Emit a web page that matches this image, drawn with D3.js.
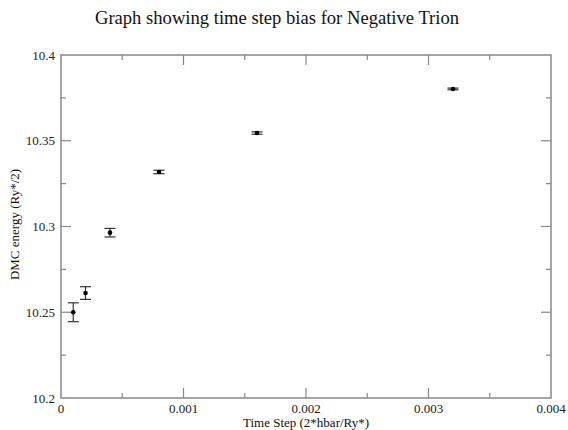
<!DOCTYPE html>
<html>
<head>
<meta charset="utf-8">
<script src="https://cdn.jsdelivr.net/npm/d3@7"></script>
<style>
  body { margin: 0; background: #fff; }
  text { font-family: "Liberation Serif", "DejaVu Serif", serif; }
</style>
</head>
<body>
<div id="chart"></div>
<script>
const timeSteps = [0.0001, 0.0002, 0.0004, 0.0008, 0.0016, 0.0032];
const energies = [10.2500, 10.2612, 10.2964, 10.3318, 10.3545, 10.3802];
const errors = [0.0055, 0.0037, 0.0025, 0.0010, 0.0007, 0.0005];
const xTicks = [0, 0.001, 0.002, 0.003, 0.004];
const yTicks = [10.2, 10.25, 10.3, 10.35, 10.4];

const width = 568, height = 430;
const margin = { top: 55, right: 17, bottom: 32, left: 61 };
const axisColor = '#888';

const svg = d3.select('#chart').append('svg')
    .attr('width', width)
    .attr('height', height);

const x = d3.scaleLinear().domain([0, 0.004]).range([margin.left, width - margin.right]);
const y = d3.scaleLinear().domain([10.2, 10.4]).range([height - margin.bottom, margin.top]);

const minorX = d3.range(0.0005, 0.004, 0.001);
const minorY = [10.225, 10.275, 10.325, 10.375];

// frame
svg.append('rect')
    .attr('x', x(0)).attr('y', y(10.4))
    .attr('width', x(0.004) - x(0)).attr('height', y(10.2) - y(10.4))
    .attr('fill', 'none').attr('stroke', axisColor).attr('stroke-width', 1.5);

const ticks = svg.append('g').attr('stroke', axisColor).attr('stroke-width', 1.2);
function xTick(v, len) {
    ticks.append('line').attr('x1', x(v)).attr('x2', x(v)).attr('y1', y(10.2)).attr('y2', y(10.2) - len);
    ticks.append('line').attr('x1', x(v)).attr('x2', x(v)).attr('y1', y(10.4)).attr('y2', y(10.4) + len);
}
function yTick(v, len) {
    ticks.append('line').attr('y1', y(v)).attr('y2', y(v)).attr('x1', x(0)).attr('x2', x(0) + len);
    ticks.append('line').attr('y1', y(v)).attr('y2', y(v)).attr('x1', x(0.004)).attr('x2', x(0.004) - len);
}
xTicks.slice(1, -1).forEach(v => xTick(v, 10));
minorX.forEach(v => xTick(v, 5));
yTicks.slice(1, -1).forEach(v => yTick(v, 10));
minorY.forEach(v => yTick(v, 5));

// tick labels
svg.append('g').selectAll('text').data(xTicks).join('text')
    .attr('x', d => x(d)).attr('y', 413)
    .attr('text-anchor', 'middle').attr('font-size', 13).attr('fill', '#222')
    .text(d => d === 0 ? '0' : d3.format('.3f')(d));

svg.append('g').selectAll('text').data(yTicks).join('text')
    .attr('x', x(0) - 6).attr('y', d => y(d) + 4.5)
    .attr('text-anchor', 'end').attr('font-size', 13).attr('fill', '#222')
    .text(d => d3.format('')(d));

// error bars
const pts = timeSteps.map((t, i) => ({ t, e: energies[i], err: errors[i] }));
const bars = svg.append('g').attr('stroke', '#333').attr('stroke-width', 1.2);
pts.forEach(d => {
    bars.append('line').attr('x1', x(d.t)).attr('x2', x(d.t)).attr('y1', y(d.e - d.err)).attr('y2', y(d.e + d.err));
    [d.e - d.err, d.e + d.err].forEach(v => {
        bars.append('line').attr('x1', x(d.t) - 5.5).attr('x2', x(d.t) + 5.5).attr('y1', y(v)).attr('y2', y(v));
    });
});

svg.append('g').selectAll('circle').data(pts).join('circle')
    .attr('cx', d => x(d.t)).attr('cy', d => y(d.e)).attr('r', 2.3).attr('fill', '#000');

// titles
svg.append('text').attr('x', 277).attr('y', 24)
    .attr('text-anchor', 'middle').attr('font-size', 18.6).attr('fill', '#111')
    .text('Graph showing time step bias for Negative Trion');

svg.append('text').attr('x', 306).attr('y', 427)
    .attr('text-anchor', 'middle').attr('font-size', 13).attr('fill', '#111')
    .text('Time Step (2*hbar/Ry*)');

svg.append('text')
    .attr('transform', `translate(19,224.5) rotate(-90)`)
    .attr('text-anchor', 'middle').attr('font-size', 13).attr('fill', '#111')
    .text('DMC energy (Ry*/2)');
</script>
</body>
</html>
